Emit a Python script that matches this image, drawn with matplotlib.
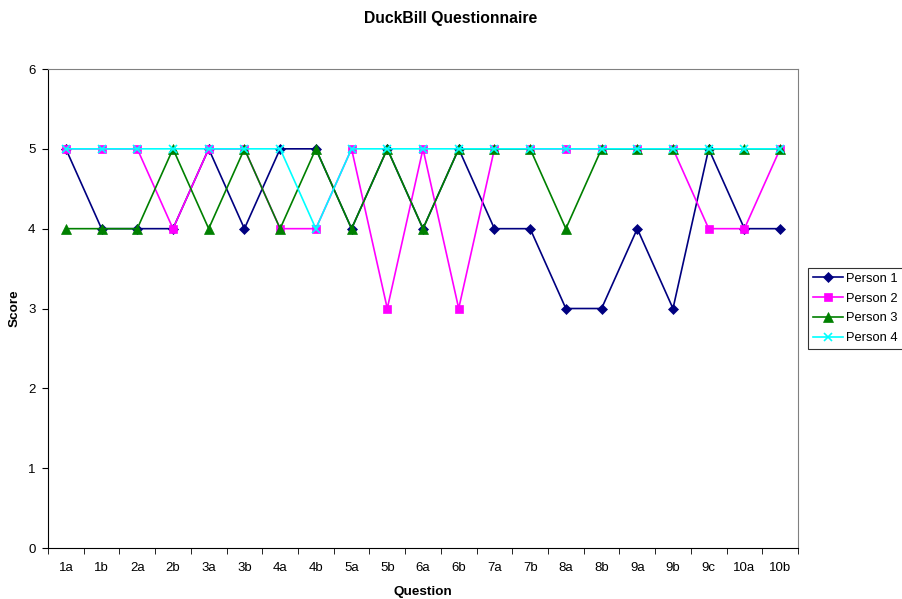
import matplotlib
matplotlib.use("Agg")
import matplotlib.pyplot as plt
import numpy as np

plt.rcParams['font.family'] = ['Liberation Sans', 'DejaVu Sans']

questions = ["1a", "1b", "2a", "2b", "3a", "3b", "4a", "4b", "5a", "5b", "6a",
             "6b", "7a", "7b", "8a", "8b", "9a", "9b", "9c", "10a", "10b"]
person1 = [5, 4, 4, 4, 5, 4, 5, 5, 4, 5, 4, 5, 4, 4, 3, 3, 4, 3, 5, 4, 4]
person2 = [5, 5, 5, 4, 5, 5, 4, 4, 5, 3, 5, 3, 5, 5, 5, 5, 5, 5, 4, 4, 5]
person3 = [4, 4, 4, 5, 4, 5, 4, 5, 4, 5, 4, 5, 5, 5, 4, 5, 5, 5, 5, 5, 5]
person4 = [5, 5, 5, 5, 5, 5, 5, 4, 5, 5, 5, 5, 5, 5, 5, 5, 5, 5, 5, 5, 5]

series = [
    ("Person 1", person1, "#000080", "D", 5),
    ("Person 2", person2, "#FF00FF", "s", 6),
    ("Person 3", person3, "#008000", "^", 7),
    ("Person 4", person4, "#00FFFF", "x", 6),
]

fig = plt.figure(figsize=(9.02, 5.99), dpi=100)
ax = fig.add_axes([0.0532, 0.0851, 0.8315, 0.7997])

x = np.arange(len(questions))
for name, vals, color, marker, ms in series:
    ax.plot(x, vals, color=color, marker=marker, markersize=ms, linewidth=1.2,
            label=name, markeredgewidth=1.2 if marker == "x" else 0.5,
            markeredgecolor=color)

ax.set_xlim(-0.5, len(questions) - 0.5)
ax.set_ylim(0, 6)
ax.set_yticks(range(0, 7))
ax.set_xticks(x)
ax.set_xticklabels(questions, fontsize=9.5)
ax.set_xticks(np.arange(-0.5, len(questions), 1.0), minor=True)
ax.tick_params(axis='x', which='major', length=0, pad=10)
ax.tick_params(axis='x', which='minor', length=4, direction='out')
ax.tick_params(axis='y', length=4, direction='out', labelsize=9.5, pad=5)

for side in ("top", "right"):
    ax.spines[side].set_color("#808080")
for side in ("left", "bottom"):
    ax.spines[side].set_color("black")

fig.text(0.5, 1 - 18 / 599, "DuckBill Questionnaire", ha='center', va='center',
         fontsize=11.3, fontweight='bold')
ax.set_xlabel("Question", fontsize=9.7, fontweight='bold', labelpad=9)
ax.set_ylabel("Score", fontsize=9.7, fontweight='bold', labelpad=5)

leg = ax.legend(loc='center left', bbox_to_anchor=(1.013, 0.5), fontsize=9.3,
                frameon=True, fancybox=False, edgecolor='black',
                handlelength=2.3, borderpad=0.4, labelspacing=0.6,
                handletextpad=0.3, borderaxespad=0)
leg.get_frame().set_linewidth(0.8)

fig.savefig("out.png", dpi=100)
